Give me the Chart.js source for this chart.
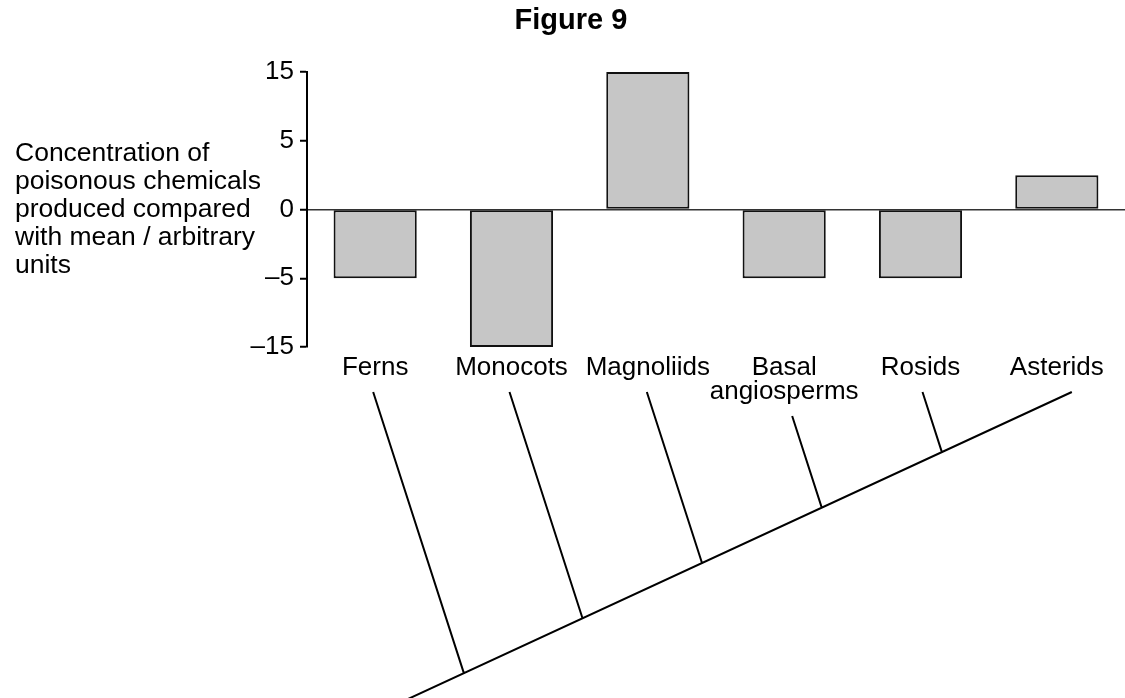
<!DOCTYPE html>
<html>
<head>
<meta charset="utf-8">
<title>Figure 9</title>
<script src="https://cdn.jsdelivr.net/npm/chart.js@4.4.1/dist/chart.umd.min.js"></script>
<style>
  html, body { margin: 0; padding: 0; background: #fff; }
</style>
</head>
<body>
<canvas id="chart" width="1125" height="698"></canvas>
<script>
const groups = ["Ferns", "Monocots", "Magnoliids", ["Basal", "angiosperms"], "Rosids", "Asterids"];
const concentration = [-5, -15, 15, -5, -5, 2.5];
// the printed axis is not linear: these five labels sit at equal spacing
const tickValues = [-15, -5, 0, 5, 15];
const yTitle = ["Concentration of", "poisonous chemicals", "produced compared", "with mean / arbitrary", "units"];

const FONT = "'Liberation Sans', Arial, sans-serif";

// value -> position on the evenly spaced axis (tick i sits at i - 2)
function toAxis(v) {
  for (let i = 0; i < tickValues.length - 1; i++) {
    const a = tickValues[i], b = tickValues[i + 1];
    if (v >= a && v <= b) return i - 2 + (v - a) / (b - a);
  }
  return v < tickValues[0] ? -2 : 2;
}

function fmt(n) {
  return n < 0 ? "\u2013" + Math.abs(n) : String(n);
}

// title, left-hand axis caption and the cladogram under the labels
const extras = {
  id: "extras",
  afterDraw(chart) {
    const ctx = chart.ctx;
    const xs = chart.scales.x;
    ctx.save();
    ctx.fillStyle = "#000";
    ctx.textBaseline = "alphabetic";

    ctx.font = "bold 29px " + FONT;
    ctx.textAlign = "center";
    ctx.fillText("Figure 9", 571, 29);

    ctx.font = "26.5px " + FONT;
    ctx.textAlign = "left";
    yTitle.forEach((t, i) => ctx.fillText(t, 15, 161 + i * 28));

    // tree: branch tips hang under each label, all branches parallel
    const tipDx = [-2, -2, -1, 8, 2, 15];
    const tipY = [392, 392, 392, 416, 392, 392];
    const last = groups.length - 1;
    const root = { x: 408, y: 699 };
    const end = { x: xs.getPixelForValue(last) + tipDx[last], y: tipY[last] };
    const m = (end.y - root.y) / (end.x - root.x);
    const k = 3.1;

    ctx.strokeStyle = "#000";
    ctx.lineWidth = 2;
    ctx.beginPath();
    ctx.moveTo(root.x, root.y);
    ctx.lineTo(end.x, end.y);
    for (let i = 0; i < last; i++) {
      const tx = xs.getPixelForValue(i) + tipDx[i], ty = tipY[i];
      const bx = (root.y - m * root.x - ty + k * tx) / (k - m);
      const by = ty + k * (bx - tx);
      ctx.moveTo(tx, ty);
      ctx.lineTo(bx, by);
    }
    ctx.stroke();
    ctx.restore();
  }
};

new Chart(document.getElementById("chart"), {
  type: "bar",
  data: {
    labels: groups,
    datasets: [{
      data: concentration.map(toAxis),
      backgroundColor: "#c6c6c6",
      borderColor: "#111",
      borderWidth: 2,
      borderSkipped: false,
      categoryPercentage: 1,
      barPercentage: 0.61
    }]
  },
  options: {
    responsive: false,
    animation: false,
    devicePixelRatio: 1,
    layout: { padding: { top: 72, right: 0, bottom: 0, left: 0 } },
    plugins: {
      legend: { display: false },
      tooltip: { enabled: false },
      title: { display: false }
    },
    scales: {
      x: {
        grid: { display: false, drawTicks: false },
        border: { display: false },
        ticks: {
          color: "#000",
          font: { family: FONT, size: 26, lineHeight: 0.92 },
          padding: 9,
          maxRotation: 0,
          autoSkip: false
        },
        afterFit: s => { s.height = 351; }
      },
      y: {
        min: -2,
        max: 2,
        afterBuildTicks: s => { s.ticks = tickValues.map((v, i) => ({ value: i - 2 })); },
        ticks: {
          color: "#000",
          font: { family: FONT, size: 26 },
          padding: 6,
          callback: v => fmt(tickValues[Math.round(v) + 2])
        },
        grid: {
          color: c => (c.tick && c.tick.value === 0 ? "#333" : "rgba(0,0,0,0)"),
          lineWidth: 1.5,
          tickColor: "#000",
          tickLength: 7,
          tickWidth: 2
        },
        border: { display: true, color: "#000", width: 2 },
        afterFit: s => { s.width = 307; }
      }
    }
  },
  plugins: [extras]
});
</script>
</body>
</html>
